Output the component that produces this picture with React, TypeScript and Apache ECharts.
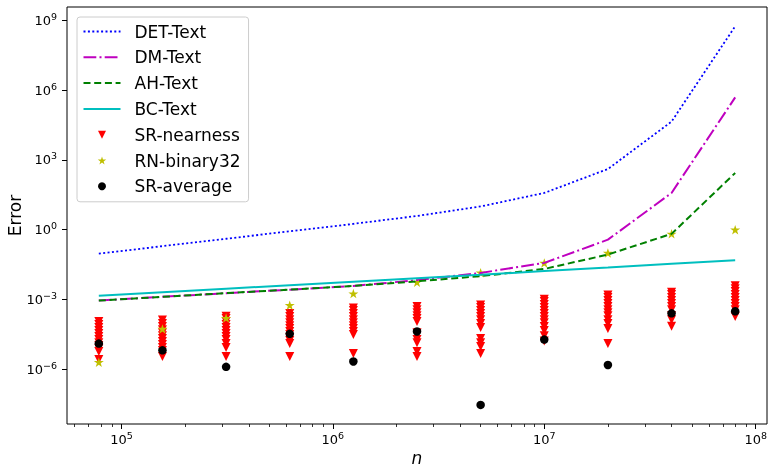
import { useEffect, useRef } from "react";
import * as echarts from "echarts";

// problem sizes n
const nValues = [78125, 156250, 312500, 625000, 1250000, 2500000, 5000000, 10000000, 20000000, 40000000, 80000000];

// log10(Error)
const detText = [-1.03, -0.71, -0.39, -0.07, 0.25, 0.59, 1.0, 1.58, 2.61, 4.65, 8.75];
const dmText = [-3.05, -2.89, -2.73, -2.58, -2.42, -2.17, -1.86, -1.43, -0.43, 1.58, 5.69];
const ahText = [-3.05, -2.89, -2.73, -2.58, -2.42, -2.22, -2.0, -1.69, -1.07, -0.18, 2.44];
const bcText = [-2.84, -2.69, -2.54, -2.39, -2.24, -2.09, -1.94, -1.78, -1.63, -1.47, -1.32];

const srNearness = [
  [-3.95, -4.08, -4.21, -4.34, -4.47, -4.6, -4.73, -4.86, -4.98, -5.11, -5.24, -5.59],
  [-3.89, -4.04, -4.17, -4.3, -4.43, -4.56, -4.68, -4.81, -4.94, -5.07, -5.2, -5.46],
  [-3.72, -3.82, -3.95, -4.08, -4.21, -4.34, -4.47, -4.6, -4.73, -4.9, -5.07, -5.46],
  [-3.61, -3.74, -3.87, -4.0, -4.13, -4.25, -4.38, -4.51, -4.64, -4.77, -4.9, -5.46],
  [-3.37, -3.48, -3.61, -3.74, -3.87, -4.0, -4.13, -4.25, -4.38, -4.51, -5.33],
  [-3.31, -3.44, -3.57, -3.7, -3.82, -3.95, -4.43, -4.73, -4.86, -5.24, -5.46],
  [-3.24, -3.35, -3.48, -3.61, -3.74, -3.87, -4.04, -4.21, -4.68, -4.86, -5.03, -5.33],
  [-2.99, -3.09, -3.22, -3.35, -3.48, -3.61, -3.74, -3.87, -4.0, -4.17, -4.34, -4.56, -4.79],
  [-2.81, -2.92, -3.05, -3.18, -3.31, -3.44, -3.57, -3.7, -3.87, -4.04, -4.25, -4.9],
  [-2.69, -2.79, -2.92, -3.05, -3.18, -3.31, -3.44, -3.7, -3.87, -4.15],
  [-2.41, -2.54, -2.66, -2.79, -2.92, -3.05, -3.18, -3.31, -3.44, -3.74],
];
const rnBinary32 = [-5.7, -4.27, -3.8, -3.25, -2.75, -2.26, -1.85, -1.43, -1.0, -0.18, 0.0];
const srAverage = [-4.9, -5.19, -5.9, -4.48, -5.67, -4.38, -7.54, -4.73, -5.82, -3.6, -3.51];

// axis ticks (exponents of 10)
const xTickExponents = [5, 6, 7, 8];
const yTickExponents = [-6, -3, 0, 3, 6, 9];
const xMinorMantissas = [2, 3, 4, 5, 6, 7, 8, 9];
const xMinorDecades = [4, 5, 6, 7];

const X_MIN = 4.7423;
const X_MAX = 8.0536;
const Y_MIN = -8.36;
const Y_MAX = 9.58;

const FONT = "DejaVu Sans";

const TRI_DOWN = "path://M0,0L2,0L1,2Z";
const STAR =
  "path://M0,-1L0.2245,-0.309L0.951,-0.309L0.363,0.118L0.588,0.809L0,0.382L-0.588,0.809L-0.363,0.118L-0.951,-0.309L-0.2245,-0.309Z";

const expText = (v: number) => String(Math.round(v)).replace("-", "\u2212");
const powLabel = (v: number) => `{b|10}{s|${expText(v)}}`;
const rich = {
  b: { fontSize: 13, fontFamily: FONT, color: "#000", lineHeight: 18, verticalAlign: "middle" },
  s: { fontSize: 9.5, fontFamily: FONT, color: "#000", lineHeight: 10, verticalAlign: "top" },
};

const legendNames = ["DET-Text", "DM-Text", "AH-Text", "BC-Text", "SR-nearness", "RN-binary32", "SR-average"];
const lineNames = ["DET-Text", "DM-Text", "AH-Text", "BC-Text"];

export default function App() {
  const ref = useRef<HTMLDivElement>(null);
  useEffect(() => {
    const chart = echarts.init(ref.current!, null, { renderer: "svg" });
    const xs = nValues.map((n) => Math.log10(n));
    const xMinor: number[] = [];
    xMinorDecades.forEach((d) =>
      xMinorMantissas.forEach((m) => {
        const v = Math.log10(m) + d;
        if (v > X_MIN && v < X_MAX) xMinor.push(v);
      })
    );

    const line = (name: string, vals: number[], color: string, dash: any, width: number) => ({
      name,
      type: "line",
      data: xs.map((x, i) => [x, vals[i]]),
      symbol: "none",
      lineStyle: { color, width, type: dash, cap: "butt" },
      itemStyle: { color },
      silent: true,
    });
    const scatter = (name: string, data: number[][], color: string, symbol: string, size: any) => ({
      name,
      type: "scatter",
      data,
      symbol,
      symbolSize: size,
      itemStyle: { color, opacity: 1 },
      silent: true,
    });

    const srData: number[][] = [];
    srNearness.forEach((col, k) => col.forEach((v) => srData.push([xs[k], v])));

    chart.setOption({
      animation: false,
      grid: {
        left: 67,
        right: 1,
        top: 7,
        bottom: 43,
        show: true,
        borderColor: "#000",
        borderWidth: 1,
        backgroundColor: "transparent",
        containLabel: false,
        outerBoundsMode: "none",
      },
      legend: {
        orient: "vertical",
        left: 77,
        top: 17,
        padding: [6, 8, 7, 5.5],
        itemWidth: 37,
        itemHeight: 8,
        itemGap: 8.8,
        backgroundColor: "rgba(255,255,255,0.8)",
        borderColor: "#cccccc",
        borderWidth: 1,
        borderRadius: 3,
        selectedMode: false,
        textStyle: { fontFamily: FONT, fontSize: 17, color: "#000", lineHeight: 17, padding: [0, 0, 0, 9] },
        data: legendNames.map((name) =>
          lineNames.includes(name)
            ? { name, itemStyle: { color: "rgba(0,0,0,0)", borderWidth: 0, opacity: 0 } }
            : { name }
        ),
      },
      xAxis: [
        {
          type: "value",
          min: X_MIN,
          max: X_MAX,
          position: "bottom",
          axisLine: { show: false, onZero: false },
          splitLine: { show: false },
          axisTick: { show: true, customValues: xTickExponents, length: 5, lineStyle: { color: "#000", width: 1 } },
          axisLabel: { customValues: xTickExponents, margin: 6, formatter: powLabel, rich },
          name: "n",
          nameLocation: "middle",
          nameGap: 25,
          nameMoveOverlap: false,
          nameTextStyle: { fontFamily: FONT, fontStyle: "italic", fontSize: 17, color: "#000" },
        },
        {
          type: "value",
          min: X_MIN,
          max: X_MAX,
          position: "bottom",
          axisLine: { show: false, onZero: false },
          splitLine: { show: false },
          axisTick: { show: true, customValues: xMinor, length: 3, lineStyle: { color: "#000", width: 0.8 } },
          axisLabel: { show: false },
        },
      ],
      yAxis: [
        {
          type: "value",
          min: Y_MIN,
          max: Y_MAX,
          position: "left",
          axisLine: { show: false, onZero: false },
          splitLine: { show: false },
          axisTick: { show: true, customValues: yTickExponents, length: 5, lineStyle: { color: "#000", width: 1 } },
          axisLabel: { customValues: yTickExponents, margin: 10, formatter: powLabel, rich },
          name: "Error",
          nameLocation: "middle",
          nameGap: 44,
          nameMoveOverlap: false,
          nameTextStyle: { fontFamily: FONT, fontSize: 17, color: "#000" },
        },
      ],
      series: [
        line("DET-Text", detText, "#0000ff", [2, 2.4], 1.8),
        line("DM-Text", dmText, "#bf00bf", [12.8, 3.2, 2, 3.2], 2),
        line("AH-Text", ahText, "#008000", [7, 3.7], 2),
        line("BC-Text", bcText, "#00bfbf", "solid", 2),
        scatter("SR-nearness", srData, "#ff0000", TRI_DOWN, [9, 9]),
        scatter("RN-binary32", xs.map((x, i) => [x, rnBinary32[i]]), "#bfbf00", STAR, [10, 9.5]),
        scatter("SR-average", xs.map((x, i) => [x, srAverage[i]]), "#000000", "circle", 8.5),
      ],
    });
    return () => chart.dispose();
  }, []);
  return <div ref={ref} style={{ position: "fixed", left: 0, top: 0, width: 768, height: 467 }} />;
}
